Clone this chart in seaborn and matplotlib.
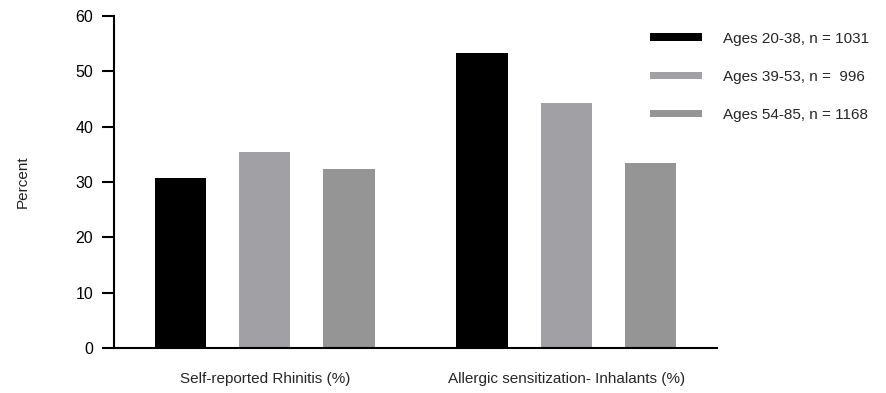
import matplotlib
matplotlib.use("Agg")
import matplotlib.pyplot as plt
from matplotlib.patches import Rectangle
import seaborn as sns
import pandas as pd

categories = ["Self-reported Rhinitis (%)", "Allergic sensitization- Inhalants (%)"]
groups = ["Ages 20-38, n = 1031", "Ages 39-53, n =  996", "Ages 54-85, n = 1168"]
values_20_38 = [30.7, 53.4]
values_39_53 = [35.4, 44.2]
values_54_85 = [32.4, 33.4]
colors = ["#000000", "#a1a1a5", "#959595"]

rows = []
for g, vals in zip(groups, [values_20_38, values_39_53, values_54_85]):
    for c, v in zip(categories, vals):
        rows.append({"category": c, "group": g, "value": v})
df = pd.DataFrame(rows)

sns.set_style("ticks")
plt.rcParams["font.family"] = ["Liberation Sans", "DejaVu Sans"]

fig = plt.figure(figsize=(8.87, 3.93), dpi=100)
ax = fig.add_axes([114/887, 1-348/393, 603/887, 332/393])
sns.barplot(data=df, x="category", y="value", hue="group", order=categories,
            hue_order=groups, palette=colors, width=0.84, gap=0.39,
            saturation=1, edgecolor="none", linewidth=0, ax=ax, legend=False)

ax.set_xlim(-0.5, 1.5)
ax.set_ylim(0, 60)
ax.set_yticks(range(0, 61, 10))
ax.set_xlabel("")
ax.set_ylabel("Percent", fontsize=11, labelpad=33, color="#222222")
sns.despine(ax=ax)
for s in ["left", "bottom"]:
    ax.spines[s].set_linewidth(1.5)
    ax.spines[s].set_color("black")
ax.tick_params(axis="y", length=9, width=1.5, pad=6, labelsize=11.5, colors="black")
ax.tick_params(axis="x", length=0, pad=17, labelsize=11)

handles = [Rectangle((0, 0), 1, 1, facecolor=c, edgecolor="none") for c in colors]
fig.legend(handles, groups, loc="upper left", bbox_to_anchor=(636/887, 1-18/393),
           frameon=False, fontsize=11, handlelength=3.4, handleheight=0.4,
           handletextpad=1.4, labelspacing=1.58)

fig.savefig("out.png", dpi=100)
